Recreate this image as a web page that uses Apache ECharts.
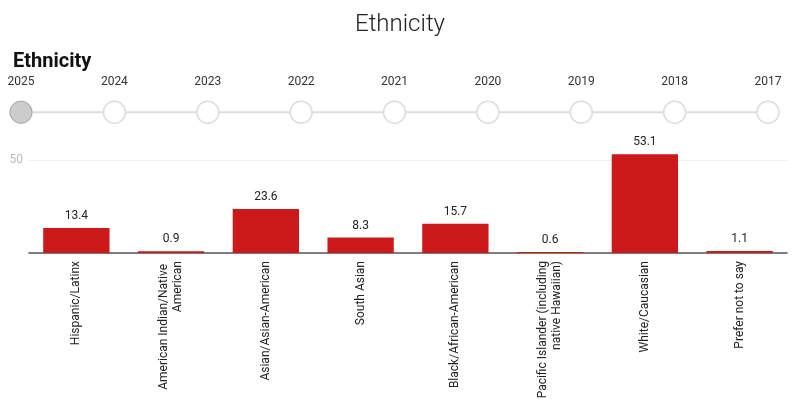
<!DOCTYPE html>
<html><head><meta charset="utf-8">
<script src="https://cdn.jsdelivr.net/npm/echarts@6/dist/echarts.min.js"></script>
<style>html,body{margin:0;padding:0;background:#fff}#c{width:800px;height:405px}</style>
</head><body><div id="c"></div>
<script>
const years = ['2025','2024','2023','2022','2021','2020','2019','2018','2017'];
const categories = ['Hispanic/Latinx','American Indian/Native American','Asian/Asian-American','South Asian','Black/African-American','Pacific Islander (including native Hawaiian)','White/Caucasian','Prefer not to say'];
const values = [13.4,0.9,23.6,8.3,15.7,0.6,53.1,1.1];
const chart = echarts.init(document.getElementById('c'));
chart.setOption({
  animation:false,
  textStyle:{fontFamily:'Roboto'},
  title:[
    {text:'Ethnicity',left:'center',top:8,textStyle:{fontSize:24,fontWeight:300,color:'#222',fontFamily:'Roboto'}},
    {text:'Ethnicity',left:8,top:47,textStyle:{fontSize:20,fontWeight:'bold',color:'#111',fontFamily:'Roboto'}}
  ],
  timeline:{
    data:years, axisType:'category', currentIndex:0, autoPlay:false,
    left:21, right:32, top:100, height:24,
    padding:0,
    controlStyle:{show:false},
    lineStyle:{color:'#ddd',width:2},
    symbol:'circle', symbolSize:22,
    itemStyle:{color:'#fff',borderColor:'#ddd',borderWidth:1.5},
    checkpointStyle:{color:'#ccc',borderColor:'#aaa',borderWidth:1,symbolSize:22,animation:false},
    label:{position:-24,color:'#333',fontSize:12,fontFamily:'Roboto'},
    emphasis:{label:{show:true}},
    progress:{lineStyle:{color:'#ddd'},itemStyle:{color:'#fff'},label:{color:'#333'}}
  },
  grid:{left:29,right:13,top:160,bottom:152},
  xAxis:{type:'category',data:categories,
    axisLine:{lineStyle:{color:'#555',width:1.5}},axisTick:{show:false},
    axisLabel:{rotate:90,interval:0,color:'#222',fontSize:12,width:140,overflow:'break',lineHeight:14,margin:8}},
  yAxis:{type:'value',min:0,max:50,interval:50,
    axisLabel:{color:'#bbb',fontSize:12,formatter:v=>v===0?'':v,margin:6},
    splitLine:{lineStyle:{color:'#eee'}},axisLine:{show:false},axisTick:{show:false}},
  series:[{type:'bar',data:values,barWidth:'70%',clip:false,
    itemStyle:{color:'#cc1a1a'},
    label:{show:true,position:'top',color:'#222',fontSize:12,distance:6}}]
});
</script></body></html>
